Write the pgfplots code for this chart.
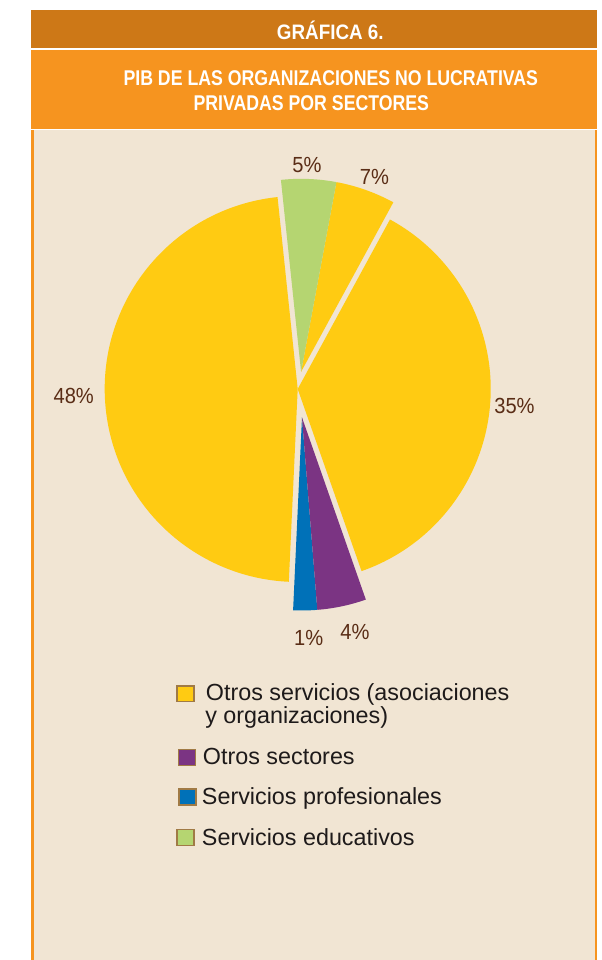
\documentclass[border=0pt]{standalone}
\usepackage{pgfplots}
\usepackage{pgfplotstable}
\pgfplotsset{compat=1.18}
\usepackage{fontspec}
\setmainfont{Liberation Sans}
\newfontfamily\grafont[FakeStretch=0.9]{Liberation Sans}
\newfontfamily\titfont[FakeStretch=0.83]{Liberation Sans}
\newfontfamily\labfont[FakeStretch=0.92]{Liberation Sans}
\definecolor{cbar}{HTML}{CD7817}
\definecolor{corg}{HTML}{F6941F}
\definecolor{cbg}{HTML}{F1E5D3}
\definecolor{cyel}{HTML}{FFCB12}
\definecolor{cpur}{HTML}{7B3483}
\definecolor{cblu}{HTML}{0071B8}
\definecolor{cgrn}{HTML}{B5D571}
\definecolor{clab}{HTML}{5A2D16}
\definecolor{cbox}{HTML}{A07A45}
\definecolor{ctxt}{HTML}{1E1A1A}

% slices, counter-clockwise from 96 deg; share = part of the circle (%)
\pgfplotstableread{
label share explode dir colour
48 47.6 0 0 cyel
1 2.0 28.8 -81.45 cblu
4 4.1 28.8 -81.45 cpur
35 36.7 0 0 cyel
7 5.0 17.5 78.85 cyel
5 4.6 17.5 78.85 cgrn
}\piedata

% printed percentages and their positions
\pgfplotstableread{
x y label
73.7 556 48
514.5 546 35
307 787 5
374.5 775 7
308.7 314 1
355 320 4
}\labdata

\def\cum{96.0}
\pgfplotsforeachungrouped \i in {0,...,5}{%
  \pgfplotstablegetelem{\i}{share}\of\piedata\let\mySh\pgfplotsretval
  \pgfplotstablegetelem{\i}{explode}\of\piedata\let\myEx\pgfplotsretval
  \pgfplotstablegetelem{\i}{dir}\of\piedata\let\myDi\pgfplotsretval
  \pgfplotstablegetelem{\i}{colour}\of\piedata\let\myCo\pgfplotsretval
  \pgfmathsetmacro\myEnd{\cum+3.6*\mySh}%
  \pgfmathsetmacro\myOx{297.7+\myEx*cos(\myDi)}%
  \pgfmathsetmacro\myOy{571+\myEx*sin(\myDi)}%
  \pgfmathsetmacro\myPx{\myOx+193*cos(\cum)}%
  \pgfmathsetmacro\myPy{\myOy+193*sin(\cum)}%
  \expandafter\xdef\csname sa\i\endcsname{\cum}%
  \expandafter\xdef\csname sb\i\endcsname{\myEnd}%
  \expandafter\xdef\csname ox\i\endcsname{\myOx}%
  \expandafter\xdef\csname oy\i\endcsname{\myOy}%
  \expandafter\xdef\csname px\i\endcsname{\myPx}%
  \expandafter\xdef\csname py\i\endcsname{\myPy}%
  \expandafter\xdef\csname co\i\endcsname{\myCo}%
  \xdef\cum{\myEnd}%
}

\begin{document}
\begin{tikzpicture}
\begin{axis}[x=0.75pt,y=0.75pt,xmin=0,xmax=602,ymin=0,ymax=960,
  hide axis,clip=false,at={(0,0)},anchor=south west]
% frame
\fill[white] (axis cs:0,0) rectangle (axis cs:602,960);
\fill[cbar] (axis cs:31,911.5) rectangle (axis cs:597,950);
\fill[corg] (axis cs:31,830.5) rectangle (axis cs:597,910);
\fill[corg] (axis cs:31,0) rectangle (axis cs:597,829.5);
\fill[cbg] (axis cs:33.8,0) rectangle (axis cs:594.6,829.5);
% titles
\node[anchor=base,inner sep=0pt,text=white,font=\grafont\bfseries\fontsize{15.7}{18}\selectfont]
  at (axis cs:330.3,920) {GRÁFICA 6.};
\node[anchor=base west,inner sep=0pt,text=white,font=\titfont\bfseries\fontsize{16}{18}\selectfont]
  at (axis cs:123.3,874) {PIB DE LAS ORGANIZACIONES NO LUCRATIVAS};
\node[anchor=base west,inner sep=0pt,text=white,font=\titfont\bfseries\fontsize{16}{18}\selectfont]
  at (axis cs:193.3,849.5) {PRIVADAS POR SECTORES};
% pie slices
\pgfplotsinvokeforeach{0,...,5}{%
  \edef\temp{\noexpand\fill[\csname co#1\endcsname] (axis cs:\csname ox#1\endcsname,\csname oy#1\endcsname) -- (axis cs:\csname px#1\endcsname,\csname py#1\endcsname) arc[start angle=\csname sa#1\endcsname,end angle=\csname sb#1\endcsname,radius=144.75pt] -- cycle;}%
  \temp
}
% percentage labels
\addplot[only marks,mark=none,point meta=explicit symbolic,
  nodes near coords={\pgfplotspointmeta\%},
  every node near coord/.append style={anchor=base,inner sep=0pt,text=clab,
    font=\labfont\fontsize{16.4}{18}\selectfont}]
  table[x=x,y=y,meta=label]{\labdata};
% legend
\draw[cbox,line width=1pt,fill=cyel] (axis cs:177,258.3) rectangle (axis cs:194,274);
\draw[cbox,line width=1pt,fill=cpur] (axis cs:178.3,194.3) rectangle (axis cs:195.3,210.7);
\draw[cbox,line width=1pt,fill=cblu] (axis cs:179,155) rectangle (axis cs:196,171);
\draw[cbox,line width=1pt,fill=cgrn] (axis cs:177,114.3) rectangle (axis cs:194,130.7);
\begin{scope}[every node/.style={anchor=base west,inner sep=0pt,text=ctxt,font=\fontsize{17.5}{20}\selectfont}]
\node at (axis cs:205.7,259.3) {Otros servicios (asociaciones};
\node at (axis cs:205,236) {y organizaciones)};
\node at (axis cs:202.7,195) {Otros sectores};
\node at (axis cs:201.7,155) {Servicios profesionales};
\node at (axis cs:201.7,114.3) {Servicios educativos};
\end{scope}
\end{axis}
\end{tikzpicture}
\end{document}
